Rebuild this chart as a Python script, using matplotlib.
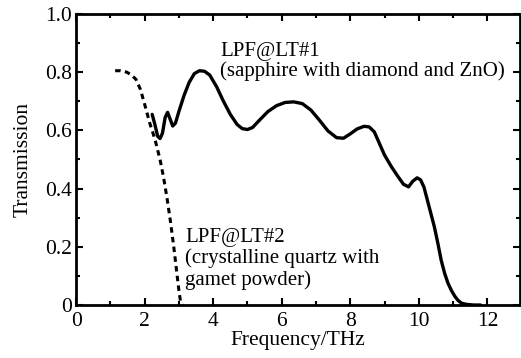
import matplotlib
matplotlib.use("Agg")
import matplotlib.pyplot as plt
from matplotlib.ticker import MultipleLocator, FixedLocator

plt.rcParams['font.family'] = ['Liberation Serif', 'DejaVu Serif']

# LPF@LT#1 (solid)
f1 = [2.22, 2.30, 2.38, 2.45, 2.52, 2.60, 2.67, 2.74, 2.82, 2.90, 3.00, 3.15, 3.30,
      3.45, 3.60, 3.75, 3.90, 4.10, 4.30, 4.50, 4.70, 4.85, 5.00, 5.15, 5.35, 5.60,
      5.85, 6.10, 6.35, 6.60, 6.85, 7.10, 7.35, 7.60, 7.80, 8.00, 8.20, 8.40, 8.55,
      8.70, 8.85, 9.00, 9.20, 9.40, 9.55, 9.70, 9.82, 9.95, 10.05, 10.15, 10.25,
      10.35, 10.45, 10.55, 10.65, 10.75, 10.85, 10.95, 11.05, 11.15, 11.25, 11.40,
      11.60, 11.80]
t1 = [0.655, 0.620, 0.580, 0.572, 0.590, 0.645, 0.662, 0.640, 0.615, 0.625, 0.665,
      0.720, 0.765, 0.795, 0.805, 0.803, 0.790, 0.750, 0.700, 0.655, 0.620, 0.606,
      0.603, 0.610, 0.635, 0.665, 0.685, 0.696, 0.698, 0.692, 0.670, 0.635, 0.598,
      0.575, 0.573, 0.588, 0.605, 0.614, 0.612, 0.595, 0.555, 0.515, 0.475, 0.440,
      0.415, 0.406, 0.425, 0.437, 0.430, 0.405, 0.360, 0.315, 0.270, 0.215, 0.155,
      0.110, 0.075, 0.050, 0.030, 0.015, 0.006, 0.002, 0.0, 0.0]

# LPF@LT#2 (dashed)
f2 = [1.14, 1.30, 1.48, 1.62, 1.75, 1.88, 2.00, 2.15, 2.30, 2.45, 2.55, 2.65, 2.75,
      2.85, 2.93, 3.00, 3.05, 3.10]
t2 = [0.805, 0.805, 0.800, 0.790, 0.775, 0.740, 0.690, 0.625, 0.570, 0.500, 0.440,
      0.370, 0.290, 0.200, 0.120, 0.050, 0.010, 0.0]

xticks = [0, 2, 4, 6, 8, 10, 12]
yticks = [0, 0.2, 0.4, 0.6, 0.8, 1.0]
yticklabels = ["0", "0.2", "0.4", "0.6", "0.8", "1.0"]

fig = plt.figure(figsize=(5.21, 3.58), dpi=100)
ax = fig.add_axes([0.146, 0.148, 0.852, 0.813])

ax.plot(f1, t1, color='black', lw=2.4, solid_capstyle='round')
ax.plot(f2, t2, color='black', lw=2.2, linestyle=(0, (1.8, 1.4)))

ax.set_xlim(0, 12.95)
ax.set_ylim(0, 1.0)
ax.xaxis.set_major_locator(FixedLocator(xticks))
ax.set_xticklabels([str(v) for v in xticks])
ax.yaxis.set_major_locator(FixedLocator(yticks))
ax.set_yticklabels(yticklabels)
ax.xaxis.set_minor_locator(MultipleLocator(1))
ax.yaxis.set_minor_locator(MultipleLocator(0.1))
ax.tick_params(which='both', direction='in', top=True, right=True, width=1.5,
               labelsize=15.5)
ax.tick_params(axis='x', which='both', pad=5)
ax.tick_params(axis='y', which='both', pad=3)
ax.tick_params(which='major', length=5)
ax.tick_params(which='minor', length=3)
for s in ax.spines.values():
    s.set_linewidth(2)

ax.set_xlabel("Frequency/THz", fontsize=15.5, labelpad=0)
ax.set_ylabel("Transmission", fontsize=15.5, labelpad=9)

fs = 15
ax.text(4.2, 0.857, "LPF@LT#1", fontsize=fs, va='baseline', ha='left')
ax.text(4.2, 0.787, "(sapphire with diamond and ZnO)", fontsize=fs, va='baseline', ha='left')
ax.text(3.18, 0.216, "LPF@LT#2", fontsize=fs, va='baseline', ha='left')
ax.text(3.18, 0.144, "(crystalline quartz with", fontsize=fs, va='baseline', ha='left')
ax.text(3.18, 0.069, "gamet powder)", fontsize=fs, va='baseline', ha='left')

fig.savefig("out.png", dpi=100)
